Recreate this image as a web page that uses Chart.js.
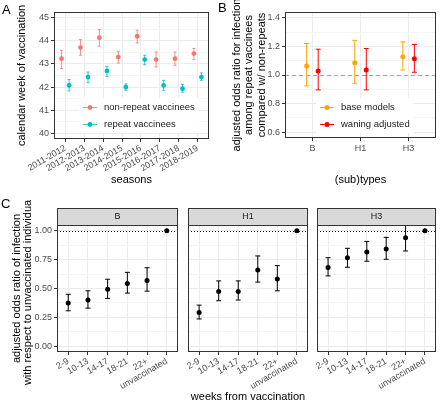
<!DOCTYPE html>
<html>
<head>
<meta charset="utf-8">
<script src="https://cdn.jsdelivr.net/npm/chart.js@4"></script>
<style>
  html, body { margin: 0; padding: 0; background: #fff; overflow: hidden; }
  #wrap { position: relative; width: 440px; height: 402px; }
  canvas { position: absolute; }
  .tag { position: absolute; font: 13px "Liberation Sans", Arial, sans-serif; color: #000; }
</style>
</head>
<body>
<div id="wrap">
  <canvas id="chartA" width="215" height="200" style="left:0;top:0"></canvas>
  <canvas id="chartB" width="225" height="200" style="left:215px;top:0"></canvas>
  <canvas id="chartCB" width="182" height="202" style="left:0;top:200px"></canvas>
  <canvas id="chartCH1" width="128" height="208" style="left:184px;top:200px"></canvas>
  <canvas id="chartCH3" width="127" height="202" style="left:313px;top:200px"></canvas>
  <div class="tag" style="left:2px;top:2px">A</div>
  <div class="tag" style="left:218px;top:0">B</div>
  <div class="tag" style="left:1px;top:196px">C</div>
</div>
<script>
// ---- data: panel A (calendar week of vaccination) ----
const seasons = ['2011-2012', '2012-2013', '2013-2014', '2014-2015', '2015-2016', '2016-2017', '2017-2018', '2018-2019'];
const nonRepeatWeek = [43.23, 43.71, 44.14, 43.30, 44.20, 43.19, 43.23, 43.45];
const nonRepeatLo   = [42.80, 43.38, 43.77, 43.04, 43.91, 42.87, 42.94, 43.19];
const nonRepeatHi   = [43.59, 44.06, 44.49, 43.55, 44.46, 43.52, 43.52, 43.67];
const repeatWeek    = [42.07, 42.43, 42.70, 42.00, 43.19, 42.07, 41.93, 42.43];
const repeatLo      = [41.83, 42.19, 42.46, 41.86, 42.97, 41.86, 41.78, 42.29];
const repeatHi      = [42.33, 42.65, 42.90, 42.14, 43.38, 42.29, 42.12, 42.61];
const weekTicks = [40, 41, 42, 43, 44, 45];

// ---- data: panel B (repeat vs non-repeat odds ratios) ----
const subtypes = ['B', 'H1', 'H3'];
const baseOR   = [1.062, 1.085, 1.127];
const baseLo   = [0.924, 0.942, 1.035];
const baseHi   = [1.220, 1.242, 1.231];
const waningOR = [1.028, 1.035, 1.113];
const waningLo = [0.896, 0.896, 1.019];
const waningHi = [1.180, 1.185, 1.213];
const orTicks = [0.6, 0.8, 1.0, 1.2, 1.4];

// ---- data: panel C (odds ratio by weeks from vaccination) ----
const weekGroups = ['2-9', '10-13', '14-17', '18-21', '22+', 'unvaccinated'];
const orB  = [0.374, 0.400, 0.494, 0.543, 0.570, 1];
const loB  = [0.307, 0.330, 0.414, 0.460, 0.477, null];
const hiB  = [0.450, 0.480, 0.580, 0.640, 0.680, null];
const orH1 = [0.293, 0.474, 0.474, 0.661, 0.583, 1];
const loH1 = [0.236, 0.394, 0.400, 0.555, 0.480, null];
const hiH1 = [0.356, 0.566, 0.566, 0.782, 0.698, null];
const orH3 = [0.681, 0.767, 0.816, 0.842, 0.940, 1];
const loH3 = [0.609, 0.684, 0.736, 0.753, 0.825, null];
const hiH3 = [0.767, 0.848, 0.908, 0.943, 1.060, null];
const cTicks = [0, 0.25, 0.5, 0.75, 1.0];

const FONT = '"Liberation Sans", Arial, sans-serif';
const TICK_GREY = '#4D4D4D';
const BORDER = '#333333';
const GRID = '#EBEBEB';
const GRID_MINOR = '#F4F4F4';

Chart.defaults.font.family = FONT;
Chart.defaults.animation = false;
Chart.defaults.plugins.legend.display = false;
Chart.defaults.plugins.tooltip.enabled = false;

// major ticks plus a minor tick half way between each pair
function withMinors(majors) {
    const out = [];
    majors.forEach((v, i) => {
        out.push({ value: v });
        if (i < majors.length - 1) out.push({ value: (v + majors[i + 1]) / 2, minor: true });
    });
    return out;
}

function yAxis(majors, o) {
    return {
        type: 'linear', min: o.min, max: o.max,
        afterBuildTicks: s => { s.ticks = withMinors(majors); },
        afterFit: s => { s.width = o.width; s.paddingTop = 0; s.paddingBottom = 0; },
        border: { display: false },
        grid: {
            color: c => (c.tick && c.tick.minor) ? GRID_MINOR : GRID,
            tickColor: c => (c.tick && c.tick.minor) ? 'rgba(0,0,0,0)' : BORDER,
            tickLength: 3,
            drawTicks: !!o.labels
        },
        ticks: {
            display: !!o.labels, color: TICK_GREY, font: { size: 9 }, padding: 2, autoSkip: false,
            callback: (v, i, ticks) => ticks[i].minor ? '' : o.fmt(v)
        },
        title: o.title ? {
            display: true, text: o.title, color: '#000',
            font: { size: 11, lineHeight: o.titleLh || 1.2 },
            padding: { top: o.titlePad, bottom: 0 }
        } : { display: false }
    };
}

function xAxis(labels, o) {
    return {
        type: 'linear', min: -o.pad, max: labels.length - 1 + o.pad,
        afterBuildTicks: s => { s.ticks = labels.map((l, i) => ({ value: i })); },
        afterFit: s => { s.height = o.height; s.paddingLeft = 0; s.paddingRight = 0; },
        border: { display: false },
        grid: { color: GRID, tickColor: BORDER, tickLength: 3 },
        ticks: {
            color: TICK_GREY, font: { size: 9 }, padding: o.tickPad, autoSkip: false,
            minRotation: o.rot, maxRotation: o.rot,
            callback: v => labels[v]
        },
        title: o.title ? {
            display: true, text: o.title, color: '#000', font: { size: 11 },
            padding: { top: 0, bottom: o.titlePad }
        } : { display: false }
    };
}

function series(label, values, lo, hi, dodge, color, barColor, radius, cap) {
    return {
        label: label,
        data: values.map((v, i) => ({ x: i + dodge, y: v })),
        lo: lo, hi: hi, barColor: barColor, cap: cap,
        backgroundColor: color, borderColor: color, borderWidth: 0,
        pointRadius: radius, showLine: false
    };
}

// error bars, reference line, panel border, facet strip and legend
const panelDecor = {
    id: 'panelDecor',
    beforeDatasetsDraw(chart, args, o) {
        const { ctx, chartArea: a } = chart;
        const y = chart.scales.y;
        ctx.save();
        ctx.beginPath();
        ctx.rect(a.left, a.top, a.right - a.left, a.bottom - a.top);
        ctx.clip();
        if (o.refLine) {
            const py = Math.round(y.getPixelForValue(o.refLine.value)) + 0.5;
            ctx.strokeStyle = o.refLine.color;
            ctx.lineWidth = 1;
            ctx.setLineDash(o.refLine.dash);
            ctx.beginPath();
            ctx.moveTo(a.left, py);
            ctx.lineTo(a.right, py);
            ctx.stroke();
            ctx.setLineDash([]);
        }
        chart.data.datasets.forEach((ds, i) => {
            const meta = chart.getDatasetMeta(i);
            meta.data.forEach((pt, j) => {
                if (ds.lo[j] == null) return;
                const top = y.getPixelForValue(ds.hi[j]);
                const bot = y.getPixelForValue(ds.lo[j]);
                ctx.strokeStyle = ds.barColor;
                ctx.lineWidth = 1;
                ctx.beginPath();
                ctx.moveTo(pt.x, top);
                ctx.lineTo(pt.x, bot);
                if (ds.cap) {
                    ctx.moveTo(pt.x - ds.cap, top);
                    ctx.lineTo(pt.x + ds.cap, top);
                    ctx.moveTo(pt.x - ds.cap, bot);
                    ctx.lineTo(pt.x + ds.cap, bot);
                }
                ctx.stroke();
            });
        });
        ctx.restore();
    },
    afterDraw(chart, args, o) {
        const { ctx, chartArea: a } = chart;
        ctx.save();
        ctx.strokeStyle = BORDER;
        ctx.lineWidth = 1;
        ctx.strokeRect(a.left + 0.5, a.top + 0.5, a.right - a.left - 1, a.bottom - a.top - 1);

        if (o.strip) {
            ctx.fillStyle = '#D9D9D9';
            ctx.fillRect(a.left, a.top - 17, a.right - a.left, 17);
            ctx.strokeRect(a.left + 0.5, a.top - 16.5, a.right - a.left - 1, 17);
            ctx.fillStyle = '#1A1A1A';
            ctx.font = '9px ' + FONT;
            ctx.textAlign = 'center';
            ctx.textBaseline = 'middle';
            ctx.fillText(o.strip, (a.left + a.right) / 2, a.top - 8);
        }

        if (o.legend) {
            const L = o.legend;
            ctx.font = '9.5px ' + FONT;
            let w = 0;
            chart.data.datasets.forEach(ds => { w = Math.max(w, ctx.measureText(ds.label).width); });
            ctx.fillStyle = '#fff';
            ctx.fillRect(L.x - 4, L.y - 9, w + 29, L.gap * chart.data.datasets.length + 1);
            chart.data.datasets.forEach((ds, i) => {
                const ly = L.y + i * L.gap;
                ctx.strokeStyle = ds.barColor;
                ctx.beginPath();
                ctx.moveTo(L.x, ly + 0.5);
                ctx.lineTo(L.x + 14, ly + 0.5);
                ctx.stroke();
                ctx.fillStyle = ds.backgroundColor;
                ctx.beginPath();
                ctx.arc(L.x + 7, ly + 0.5, ds.pointRadius, 0, Math.PI * 2);
                ctx.fill();
                ctx.fillStyle = '#1A1A1A';
                ctx.textAlign = 'left';
                ctx.textBaseline = 'middle';
                ctx.fillText(ds.label, L.x + 21, ly + 0.5);
            });
        }
        ctx.restore();
    }
};
Chart.register(panelDecor);

function makeChart(id, datasets, scales, padding, decor) {
    return new Chart(document.getElementById(id), {
        type: 'scatter',
        data: { datasets: datasets },
        options: {
            responsive: false,
            devicePixelRatio: 1,
            layout: { padding: padding },
            scales: scales,
            plugins: { panelDecor: decor }
        }
    });
}

// Panel A
makeChart('chartA', [
    series('non-repeat vaccinees', nonRepeatWeek, nonRepeatLo, nonRepeatHi, -0.2, '#F8766D', 'rgba(248,118,109,0.8)', 2.4, 1.5),
    series('repeat vaccinees', repeatWeek, repeatLo, repeatHi, 0.2, '#00BFC4', 'rgba(0,191,196,0.8)', 2.4, 1.5)
], {
    x: xAxis(seasons, { pad: 0.6, height: 61, tickPad: 1, rot: 30, title: 'seasons', titlePad: 13.4 }),
    y: yAxis(weekTicks, { min: 39.75, max: 45.25, width: 54, labels: true, fmt: v => String(v),
        title: 'calendar week of vaccination', titlePad: 15.4 })
}, { left: 0, right: 6, top: 12, bottom: 0 }, { legend: { x: 83, y: 107, gap: 17 } });

// Panel B
makeChart('chartB', [
    series('base models', baseOR, baseLo, baseHi, -0.12, '#FFA500', '#FFA500', 2.5, 2.5),
    series('waning adjusted', waningOR, waningLo, waningHi, 0.12, '#FF0000', '#FF0000', 2.5, 2.5)
], {
    x: xAxis(subtypes, { pad: 0.57, height: 62, tickPad: 2, rot: 0, title: '(sub)types', titlePad: 13.4 }),
    y: yAxis(orTicks, { min: 0.56, max: 1.44, width: 70, labels: true, fmt: v => v.toFixed(1),
        title: ['adjusted odds ratio for infection', 'among repeat vaccinees', 'compared w/ non-repeats'],
        titleLh: 1.13, titlePad: 15.8 })
}, { left: 0, right: 2, top: 12, bottom: 0 },
   { legend: { x: 105, y: 107, gap: 17 }, refLine: { value: 1, color: '#A6A6A6', dash: [4, 3] } });

// Panel C facets
const cRef = { value: 1, color: '#000', dash: [1, 2] };

makeChart('chartCB', [
    series('B', orB, loB, hiB, 0, '#000', '#000', 2.5, 2.5)
], {
    x: xAxis(weekGroups, { pad: 0.57, height: 50, tickPad: 1, rot: 30 }),
    y: yAxis(cTicks, { min: -0.05, max: 1.05, width: 57, labels: true, fmt: v => v.toFixed(2),
        title: ['adjusted odds ratio of infection', 'with respect to unvaccinated individuals'],
        titleLh: 1.0, titlePad: 11.5 })
}, { left: 0, right: 2, top: 25, bottom: 0 }, { strip: 'B', refLine: cRef });

makeChart('chartCH1', [
    series('H1', orH1, loH1, hiH1, 0, '#000', '#000', 2.5, 2.5)
], {
    x: xAxis(weekGroups, { pad: 0.57, height: 56, tickPad: 1, rot: 30, title: 'weeks from vaccination', titlePad: 4.4 }),
    y: yAxis(cTicks, { min: -0.05, max: 1.05, width: 0, labels: false, fmt: v => v.toFixed(2) })
}, { left: 2, right: 2, top: 25, bottom: 0 }, { strip: 'H1', refLine: cRef });

makeChart('chartCH3', [
    series('H3', orH3, loH3, hiH3, 0, '#000', '#000', 2.5, 2.5)
], {
    x: xAxis(weekGroups, { pad: 0.57, height: 50, tickPad: 1, rot: 30 }),
    y: yAxis(cTicks, { min: -0.05, max: 1.05, width: 0, labels: false, fmt: v => v.toFixed(2) })
}, { left: 2, right: 3, top: 25, bottom: 0 }, { strip: 'H3', refLine: cRef });
</script>
</body>
</html>
